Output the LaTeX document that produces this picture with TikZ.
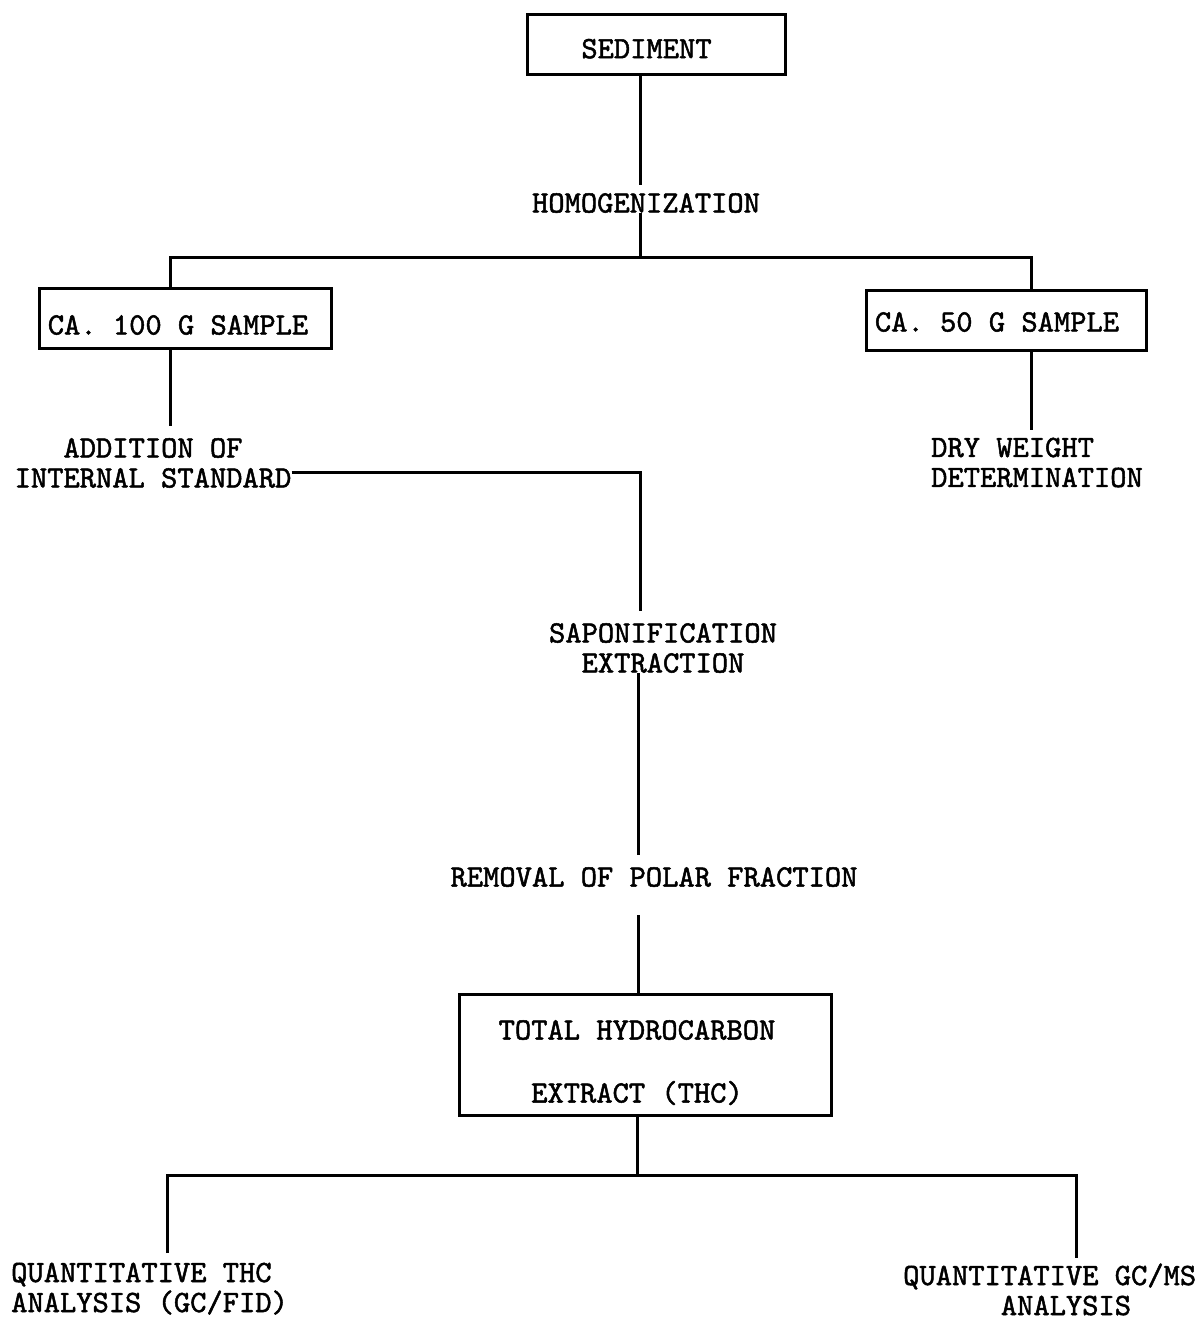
\documentclass[tikz,border=0pt]{standalone}
\usepackage{fontspec}
\newfontfamily\tyfont{lmmono10-regular.otf}[FakeBold=1.6]
\begin{document}
\begin{tikzpicture}[x=1pt,y=-1pt,
  txt/.style={font=\tyfont\fontsize{31}{30}\selectfont, inner sep=0pt},
  box/.style={txt, draw, line width=3pt, text depth=0pt},
  conn/.style={line width=3pt, line join=miter}]
\useasboundingbox[fill=white] (0,0) rectangle (1200,1321);

% boxes
\node[box, text height=27.4pt, minimum width=258pt, minimum height=60pt] (sed) at (656.5,44.5) {SEDIMENT\hspace*{20pt}};
\node[box, text height=32pt, minimum width=292pt, minimum height=60pt] (s100) at (185.5,318.5) {CA. 100 G SAMPLE\hspace*{15pt}};
\node[box, text height=22pt, minimum width=280pt, minimum height=60pt] (s50) at (1006.5,320.5) {CA. 50 G SAMPLE\hspace*{19pt}};
\node[txt, draw, line width=3pt, align=center, minimum width=372pt, minimum height=121pt] (thc) at (645.5,1055)
  {\rule{0pt}{32pt}TOTAL HYDROCARBON\hspace*{17pt}\\[33pt]\smash{EXTRACT (THC)}\hspace*{17pt}};

% texts
\node[txt, text height=19pt, text depth=0pt] (homog) at (646,203) {HOMOGENIZATION};
\node[txt, align=center] (addit) at (153,463) {ADDITION OF\\INTERNAL STANDARD};
\node[txt, align=left, anchor=north west] (dry) at (931,437.5) {DRY WEIGHT\\DETERMINATION};
\node[txt, align=center] (sapon) at (663,648) {SAPONIFICATION\\EXTRACTION};
\node[txt, text height=19pt, text depth=0pt] (removal) at (654,877) {REMOVAL OF POLAR FRACTION};
\node[txt, align=left, anchor=north west] (qthc) at (11,1262.5) {QUANTITATIVE THC\\ANALYSIS (GC/FID)};
\node[txt, align=left, anchor=north west] (qgcms) at (903,1265.5) {QUANTITATIVE GC\smash{/}MS\\\hphantom{QUANTI}ANALYSIS};

% coordinates
\coordinate (spine) at (640,0);
\coordinate (spine2) at (638,0);
\coordinate (j1) at (640,258);
\coordinate (xl) at (170,258);
\coordinate (xr) at (1031,258);
\coordinate (k1) at (640,472);
\coordinate (j2) at (637,1175);
\coordinate (ql) at (167,1175);
\coordinate (qr) at (1076,1175);

% connectors
\draw[conn, shorten >=8.5pt] (sed.south -| spine) -- (homog.north -| spine);
\draw[conn] (homog.south -| j1) -- (j1);
\draw[conn] (s100.north -| xl) -- (xl) -- (xr) -- (s50.north -| xr);
\draw[conn, shorten >=11.5pt] (s100.south -| xl) -- (addit.north -| xl);
\draw[conn, shorten >=7.5pt] (s50.south -| xr) -- (dry.north -| xr);
\draw[conn, shorten >=11.5pt] (addit.east |- k1) -- (k1) -- (sapon.north -| k1);
\draw[conn, shorten >=12.5pt] (sapon.south -| spine2) -- (removal.north -| spine2);
\draw[conn, shorten <=28.5pt] (removal.south -| spine2) -- (thc.north -| spine2);
\draw[conn] (thc.south -| j2) -- (j2);
\draw[conn, shorten <=9.5pt, shorten >=7.5pt] (qthc.north -| ql) -- (ql) -- (qr) -- (qgcms.north -| qr);
\end{tikzpicture}
\end{document}
